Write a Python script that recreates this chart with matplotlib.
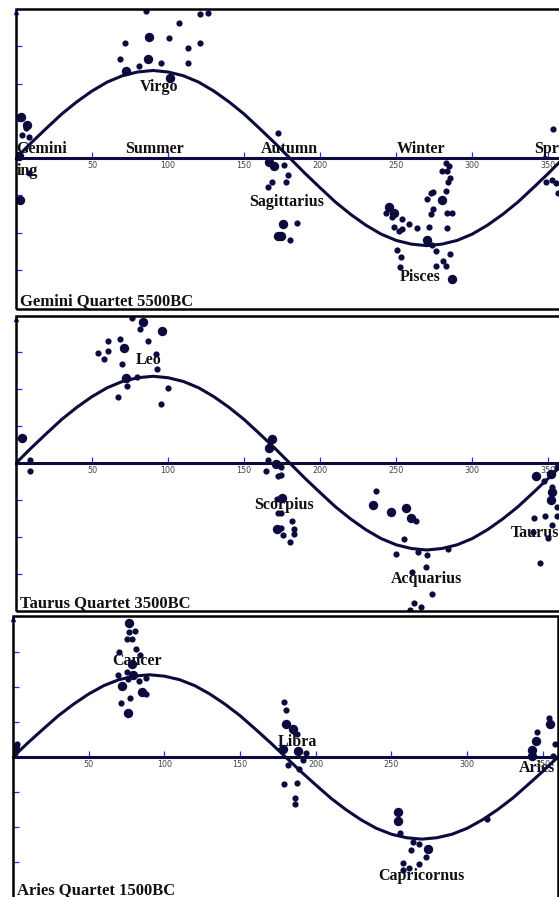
"""Zodiac quartets: star positions (ecliptic longitude vs declination) at three epochs,
with the ecliptic drawn as a sine-like curve through the seasons."""
import matplotlib
matplotlib.use("Agg")
import matplotlib.pyplot as plt
from matplotlib.patches import Rectangle

INK = "#0b0b3e"
TICK = "#2a2aff"
GREY = "#444444"
SERIF = ["Liberation Serif", "DejaVu Serif"]
LFS, TFS = 11.5, 12

# ecliptic curve, every 10 degrees
CURVE_X = list(range(0, 361, 10))
CURVE_Y = [0, 4.1, 8.0, 11.8, 15.1, 18.0, 20.4, 22.1, 23.1, 23.5,
           23.1, 22.1, 20.4, 18.0, 15.1, 11.8, 8.0, 4.1, 0,
           -4.1, -8.0, -11.8, -15.1, -18.0, -20.4, -22.1, -23.1, -23.5,
           -23.1, -22.1, -20.4, -18.0, -15.1, -11.8, -8.0, -4.1, 0]
XTICKS = [50, 100, 150, 200, 250, 300, 350]
YTICKS = [-30, -20, -10, 10, 20, 30]

# ---- Gemini quartet 5500BC
gem_small_x = [85.5, 107.2, 121, 126.3, 71.7, 100.7, 113.2, 121, 68.4, 80.9, 95.4, 113.2,
               6.6, 3.9, 8.6, 8.6, 172.4, 176.3, 179, 168.4, 165.8, 177.6, 184.9, 180.3,
               243.4, 247.4, 254, 248.7, 252, 254, 258.6, 263.8, 271.7, 270.4, 273, 274.3,
               274.3, 273, 282.9, 284.2, 285.5, 280.3, 283.6, 282.9, 284.9, 283.6, 286.8,
               283.6, 273.7, 276.3, 250.7, 253.3, 252.6, 276.3, 282.9, 280.9, 285.5,
               353.3, 348.7, 352.6, 355.3, 356.6]
gem_small_y = [39.4, 36.2, 38.6, 38.9, 30.8, 32.2, 29.5, 30.8, 26.5, 24.7, 25.5, 25.5,
               8.0, 6.2, 5.6, -4, 6.7, -1.9, -4.6, -6.4, -7.8, -6.4, -17.4, -22,
               -14.7, -15.8, -16.4, -18.5, -19.6, -19, -17.7, -18.8, -18.5, -11, -9.4, -9.1,
               -13.7, -15, -8.8, -6.4, -5.4, -3.5, -3.5, -1.3, -2.1, -14.7, -14.7,
               -18.8, -23.3, -24.9, -24.7, -26.5, -29.2, -29, -29, -27.6, -25.7,
               7.8, -6.4, -5.9, -6.7, -9.4]
gem_big_x = [87.5, 86.8, 72.4, 101.3, 3.3, 7.2, 2, 2.6, 166.4, 169.7, 172.4, 175.7,
             174.3, 245.4, 248.7, 280.3, 270.4, 286.8]
gem_big_y = [32.4, 26.5, 23.3, 21.4, 11, 8.8, 0.5, -11.3, -1.1, -2.1, -20.9, -17.7,
             -20.9, -13.1, -14.7, -11.3, -22, -32.4]

# ---- Taurus quartet 3500BC
tau_small_x = [76.3, 81.6, 60.5, 68.4, 86.8, 54, 60.5, 57.9, 92.1, 69.7, 92.8, 79.6, 73,
               100, 67.1, 95.4, 9.2, 9.2, 165.8, 164.5, 172.4, 171.7, 172.4, 174.3, 174.3,
               174.3, 181.6, 174.3, 182.9, 175.7, 182.9, 180.3, 236.8, 263.2, 255.3, 250,
               264.5, 270.4, 284.2, 269.7, 260.5, 273.7, 261.8, 266.4, 259.2, 347.4, 352.6,
               355.9, 340.8, 348, 355.9, 352.6, 340.1, 350, 344.7, 356]
tau_small_y = [39.2, 36.2, 33, 33.5, 33, 29.7, 30.3, 28.1, 29.5, 26.8, 25.4, 23.2, 20.8,
               20.3, 17.8, 15.9, 0.8, -2.2, 0.8, -2.2, -3.5, -9.7, -13.5, -1.1, -3.2,
               -13.5, -15.7, -17.6, -17.8, -19.5, -19.2, -21.4, -7.6, -15.7, -20.5, -24.6,
               -24.1, -24.9, -23.2, -28.1, -29.5, -35.4, -37.8, -38.9, -39.7, -4.9, -6.5,
               -11.9, -14.9, -14.3, -14.3, -16.8, -18.6, -20.3, -27, -1]
tau_big_x = [83.6, 96.1, 71, 72.4, 3.9, 168.4, 166.4, 171, 171.7, 175, 234.9, 246.7,
             256.6, 259.9, 342.1, 352, 352.6, 352]
tau_big_y = [38.1, 35.7, 31.1, 23, 6.8, 6.5, 4.1, -0.3, -17.8, -9.5, -11.4, -13.2,
             -12.2, -14.9, -3.5, -3, -7.8, -10]

# ---- Aries quartet 1500BC
ari_small_x = [80.5, 76.5, 75.2, 78.5, 81.1, 69.9, 83.8, 75.2, 69.3, 75.9, 87.7, 83.1,
               87.7, 77.2, 71.2, 2.6, 1.3, 178.8, 180.1, 187.3, 193.3, 191.3, 181.4, 188.7,
               178.8, 187.3, 186, 186, 255.9, 263.9, 268.5, 263.2, 273.1, 268.5, 257.3,
               261.9, 257.3, 313.3, 354.2, 346.3, 358.2, 356.9]
ari_small_y = [36, 35.7, 33.7, 33.7, 30.9, 30, 29.1, 24.3, 23.4, 22.3, 22.6, 21.7,
               18, 16.9, 15.4, 3.7, 1.0, 15.7, 13.4, 6.6, 1.1, -0.9, -2.3, -3.4,
               -7.7, -7.4, -11.7, -13.4, -21.7, -24.3, -24.9, -26.6, -28.6, -30.6, -30.3,
               -31.7, -32.3, -17.7, 11.1, 7.1, 3.7, 0.3]
ari_big_x = [76.5, 78.5, 79.2, 71.9, 85.1, 75.9, 1.3, 180.1, 184.7, 178.1, 188, 254.6,
             254.6, 274.4, 354.9, 345.6, 343, 343]
ari_big_y = [38.3, 26.6, 23.4, 20.3, 18.6, 12.6, 2.6, 9.4, 8, 2.3, 1.7, -15.7,
             -18.3, -26.3, 9.4, 4.6, 2, 0.3]

# labels: (text, x, y, ha, va)
gem_labels = [("Virgo", 94, 19, "center", "center"),
              ("Summer", 91, 0.2, "center", "bottom"),
              ("Autumn", 179.6, 0.2, "center", "bottom"),
              ("Winter", 266, 0.2, "center", "bottom"),
              ("Spring", 341, 0.2, "left", "bottom"),
              ("Gemini", 0.3, 0.2, "left", "bottom"),
              ("ing", 0.3, -3.6, "left", "center"),
              ("Sagittarius", 177.6, -11.8, "center", "center"),
              ("Pisces", 266, -32, "center", "center")]
tau_labels = [("Leo", 87.5, 27.8, "center", "center"),
              ("Scorpius", 176, -11.4, "center", "center"),
              ("Acquarius", 270, -31.4, "center", "center"),
              ("Taurus", 325, -19, "left", "center")]
ari_labels = [("Cancer", 82, 27.4, "center", "center"),
              ("Libra", 188, 4.3, "center", "center"),
              ("Capricornus", 270, -34, "center", "center"),
              ("Aries", 346, -3.1, "center", "center")]

W, H = 559, 897
fig = plt.figure(figsize=(W / 100, H / 100), dpi=100)
fig.patch.set_facecolor("white")

# pixel box (l, t, r, b), xlim, ylim, points, labels, title, title baseline (axes frac)
PANELS = [
    ((16, 9, 559, 309), (0, 357), (-40.5, 40), gem_small_x, gem_small_y, gem_big_x,
     gem_big_y, gem_labels, "Gemini Quartet 5500BC", 0.014, False),
    ((16, 316, 559, 611), (0, 357), (-40, 39.8), tau_small_x, tau_small_y, tau_big_x,
     tau_big_y, tau_labels, "Taurus Quartet 3500BC", 0.012, False),
    ((13, 616, 558, 900), (0, 360), (-40.9, 40.3), ari_small_x, ari_small_y, ari_big_x,
     ari_big_y, ari_labels, "Aries Quartet 1500BC", 0.022, True),
]

for (l, t, r, b), xl, yl, sx, sy, bx, by, labels, title, ty, right in PANELS:
    ax = fig.add_axes([l / W, 1 - b / H, (r - l) / W, (b - t) / H])
    ax.set_xlim(*xl)
    ax.set_ylim(*yl)
    for side in ("top", "right", "left"):
        ax.spines[side].set_visible(False)
    ax.spines["bottom"].set_position(("data", 0))
    ax.spines["bottom"].set_color(INK)
    ax.spines["bottom"].set_linewidth(2.2)
    ax.spines["bottom"].set_zorder(2)
    ax.add_patch(Rectangle((0, 0), 1 if right else 1.01, 1, transform=ax.transAxes,
                           fill=False, ec="black", lw=1.8, clip_on=False, zorder=6))
    ax.set_xticks(XTICKS)
    ax.set_xticklabels([str(v) for v in XTICKS], color=GREY, fontsize=5.8)
    ax.set_yticks(YTICKS)
    ax.set_yticklabels([])
    ax.tick_params(axis="x", direction="in", length=4, width=0.9, color=TICK, pad=2)
    ax.tick_params(axis="y", direction="in", length=4, width=0.9, color=TICK)
    ax.plot([0], [yl[1] - 0.8], marker="^", ms=3, color=TICK, clip_on=False, zorder=5)

    ax.plot(CURVE_X, CURVE_Y, color=INK, lw=2.2, zorder=3, solid_capstyle="round")
    for txt, x, y, ha, va in labels:
        ax.text(x, y, txt, ha=ha, va=va, fontsize=LFS, fontweight="bold",
                family=SERIF, color="#111111", zorder=1)
    ax.scatter(sx, sy, s=20, color=INK, lw=0, zorder=4)
    ax.scatter(bx, by, s=46, color=INK, lw=0, zorder=4)
    ax.text(0.008, ty, title, transform=ax.transAxes, ha="left", va="baseline",
            fontsize=TFS, fontweight="bold", family=SERIF, color="#111111", zorder=7)

fig.savefig("out.png", dpi=100, facecolor="white")
